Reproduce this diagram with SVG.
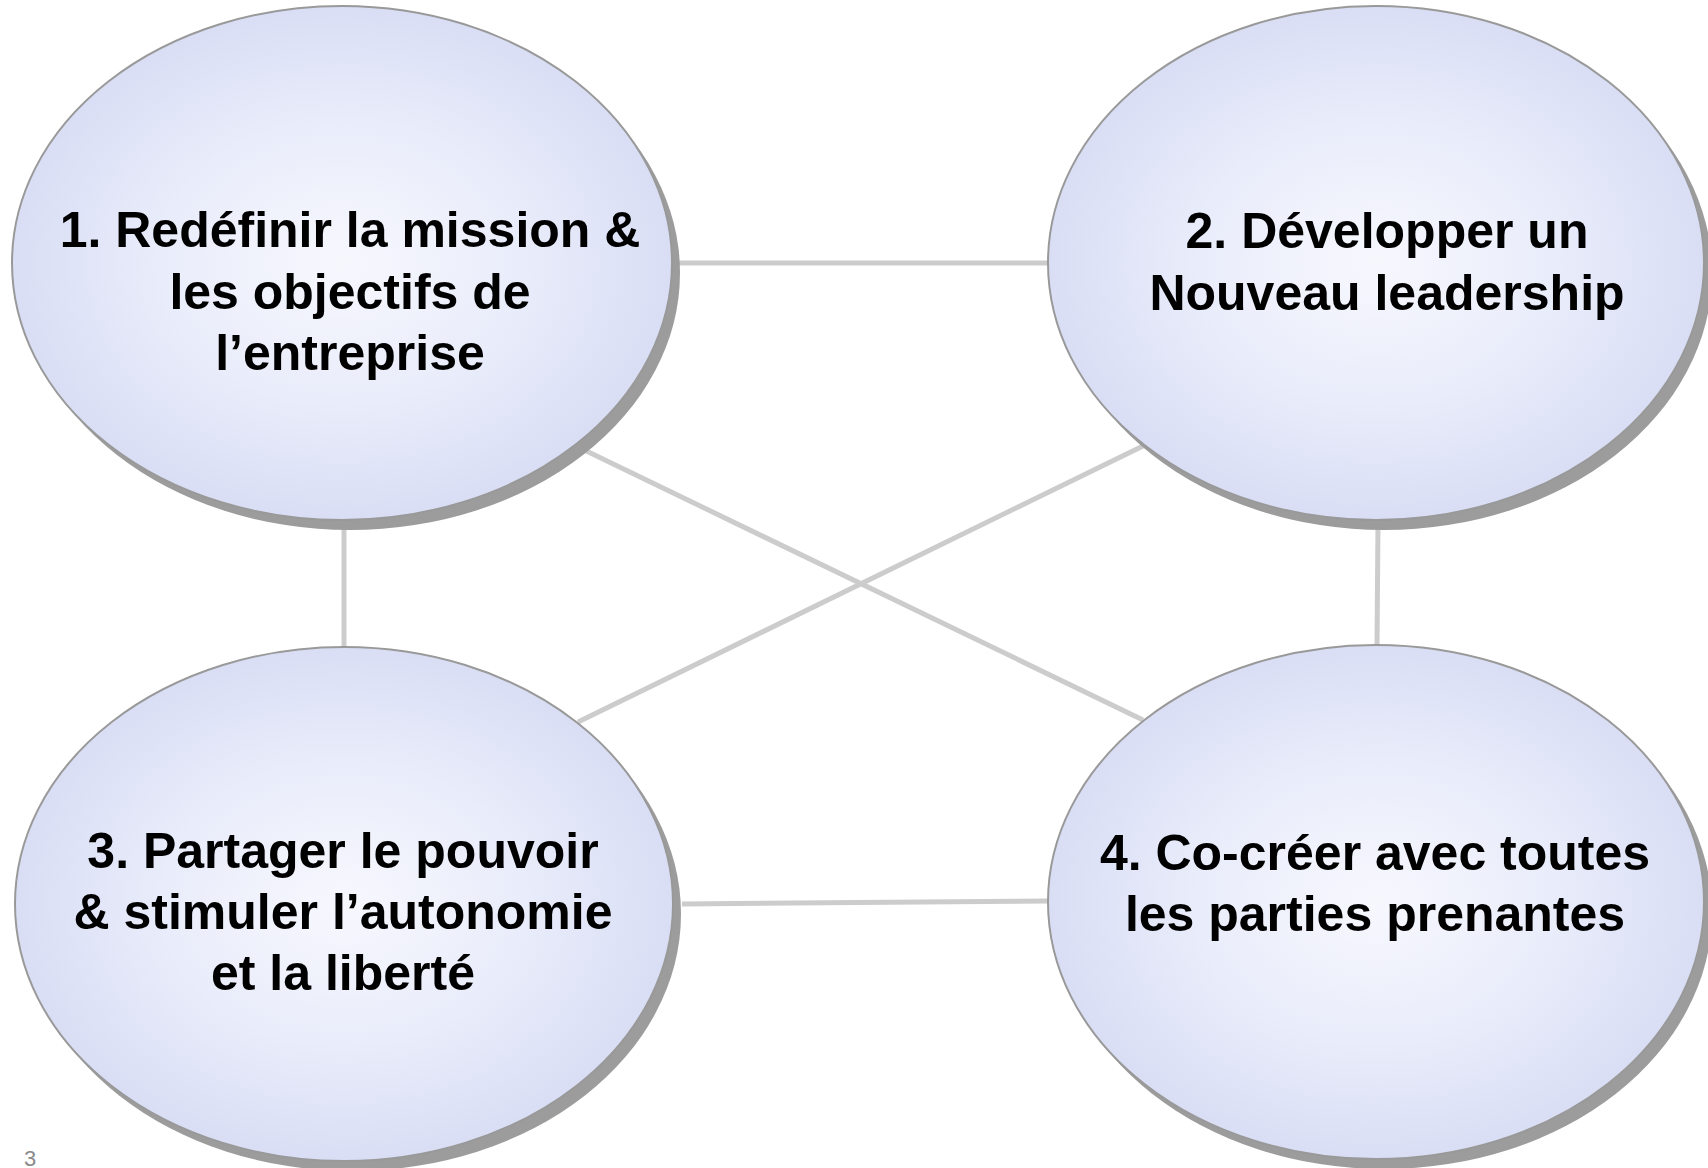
<svg xmlns="http://www.w3.org/2000/svg" width="1708" height="1168" viewBox="0 0 1708 1168">
<defs>
<radialGradient id="fill" cx="50%" cy="50%" r="50%">
<stop offset="0" stop-color="#f7f8fe"/>
<stop offset="0.55" stop-color="#e9ecfa"/>
<stop offset="1" stop-color="#d9def5"/>
</radialGradient>
<style>
.shadow{fill:#9c9c9c}
.body{fill:url(#fill);stroke:#999999;stroke-width:2}
.lbl{font-family:"Liberation Sans",Arial,sans-serif;font-weight:bold;font-size:50px;fill:#000;text-anchor:middle}
.conn{stroke:#cccccc;stroke-width:5;fill:none}
.pg{font-family:"Liberation Sans",Arial,sans-serif;font-size:22px;fill:#8a8a8a}
</style>
</defs>
<rect width="1708" height="1168" fill="#ffffff"/>
<g id="connectors">
<line class="conn" x1="676" y1="263" x2="1049" y2="263"/>
<line class="conn" x1="344" y1="522" x2="344" y2="647"/>
<line class="conn" x1="1378" y1="522" x2="1377" y2="645"/>
<line class="conn" x1="682" y1="904" x2="1048" y2="901"/>
<line class="conn" x1="576" y1="446" x2="1143" y2="720"/>
<line class="conn" x1="1143" y1="446" x2="578" y2="722"/>
</g>
<g id="node1">
<ellipse class="shadow" cx="350" cy="273" rx="330" ry="257"/>
<ellipse class="body" cx="342" cy="263" rx="330" ry="257"/>
<text class="lbl"><tspan x="350" y="247">1. Redéfinir la mission &amp;</tspan><tspan x="350" y="309">les objectifs de</tspan><tspan x="350" y="370">l’entreprise</tspan></text>
</g>
<g id="node2">
<ellipse class="shadow" cx="1384" cy="273" rx="328" ry="257"/>
<ellipse class="body" cx="1376" cy="263" rx="328" ry="257"/>
<text class="lbl"><tspan x="1387" y="248">2. Développer un</tspan><tspan x="1387" y="310">Nouveau leadership</tspan></text>
</g>
<g id="node3">
<ellipse class="shadow" cx="352" cy="914" rx="329" ry="257"/>
<ellipse class="body" cx="344" cy="904" rx="329" ry="257"/>
<text class="lbl"><tspan x="343" y="868">3. Partager le pouvoir</tspan><tspan x="343" y="929">&amp; stimuler l’autonomie</tspan><tspan x="343" y="990">et la liberté</tspan></text>
</g>
<g id="node4">
<ellipse class="shadow" cx="1384" cy="912" rx="328" ry="257"/>
<ellipse class="body" cx="1376" cy="902" rx="328" ry="257"/>
<text class="lbl"><tspan x="1375" y="870">4. Co-créer avec toutes</tspan><tspan x="1375" y="931">les parties prenantes</tspan></text>
</g>
<text class="pg" x="24" y="1166">3</text>
</svg>
